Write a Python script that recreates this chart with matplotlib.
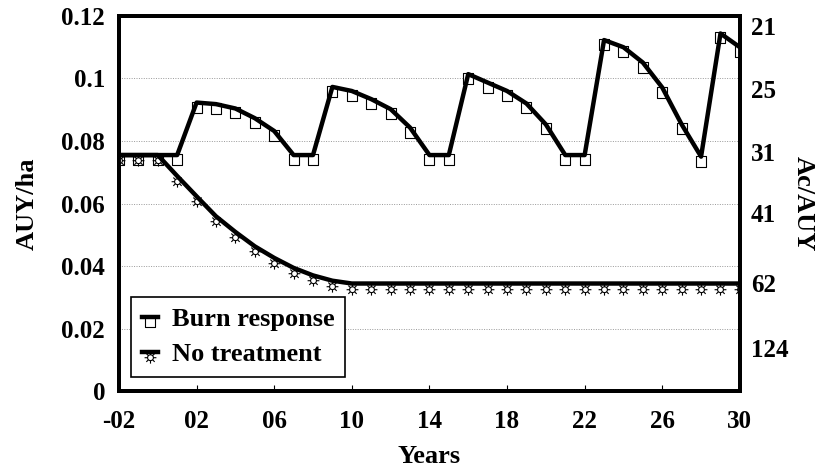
import numpy as np
import matplotlib
matplotlib.use("Agg")
import matplotlib.pyplot as plt
from matplotlib.path import Path
from matplotlib.legend_handler import HandlerTuple

plt.rcParams['font.family'] = ['Liberation Serif', 'DejaVu Serif']
plt.rcParams['font.weight'] = 'bold'

years = list(range(-2, 31))
burn = [0.0755, 0.0755, 0.0755, 0.0755, 0.0923, 0.0918, 0.0904, 0.0873, 0.0832,
        0.0755, 0.0755, 0.0973, 0.0960, 0.0934, 0.0902, 0.0843, 0.0755, 0.0755,
        0.1014, 0.0987, 0.0960, 0.0920, 0.0853, 0.0755, 0.0755, 0.1123, 0.1100,
        0.1051, 0.0971, 0.0853, 0.0750, 0.1144, 0.1100]
no_treat = [0.0755, 0.0755, 0.0755, 0.0688, 0.0623, 0.0559, 0.0509, 0.0463, 0.0426,
            0.0394, 0.0370, 0.0353, 0.0344, 0.0344, 0.0344, 0.0344, 0.0344, 0.0344,
            0.0344, 0.0344, 0.0344, 0.0344, 0.0344, 0.0344, 0.0344, 0.0344, 0.0344,
            0.0344, 0.0344, 0.0344, 0.0344, 0.0344, 0.0344]

x_ticks = [-2, 2, 6, 10, 14, 18, 22, 26, 30]
x_labels = ['-02', '02', '06', '10', '14', '18', '22', '26', '30']
y_ticks = [0, 0.02, 0.04, 0.06, 0.08, 0.1, 0.12]
y_labels = ['0', '0.02', '0.04', '0.06', '0.08', '0.1', '0.12']
right_pos = [0.1169, 0.0966, 0.0764, 0.0571, 0.0347, 0.0138]
right_labels = ['21', '25', '31', '41', '62', '124']

# markers hang below the line (top edge tucked under the line)
sq_marker = Path([(-0.5, 0.1), (0.5, 0.1), (0.5, -0.9), (-0.5, -0.9), (-0.5, 0.1)],
                 [Path.MOVETO, Path.LINETO, Path.LINETO, Path.LINETO, Path.CLOSEPOLY])

def sun_path():
    c = -0.75
    circ = Path.circle((0, c), 0.42)
    verts, codes = [], []
    for a in np.linspace(0, 2 * np.pi, 8, endpoint=False):
        verts += [(0.5 * np.cos(a), c + 0.5 * np.sin(a)), (0.85 * np.cos(a), c + 0.85 * np.sin(a))]
        codes += [Path.MOVETO, Path.LINETO]
    return Path.make_compound_path(circ, Path(verts, codes))

sun_marker = sun_path()

fig = plt.figure(figsize=(8.29, 4.70), dpi=100)
ax = fig.add_axes([0.1435, 0.168, 0.749, 0.798])

for v in y_ticks[1:-1]:
    ax.axhline(v, color='#999999', lw=0.7, ls=(0, (1, 1.5)), zorder=1)

m1, = ax.plot(years, burn, ls='none', marker=sq_marker, ms=14, mfc='white', mec='black', mew=0.8, zorder=3)
l1, = ax.plot(years, burn, color='black', lw=3.2, zorder=4)
m2, = ax.plot(years, no_treat, ls='none', marker=sun_marker, ms=16, mfc='white', mec='black', mew=0.8, zorder=3)
l2, = ax.plot(years, no_treat, color='black', lw=3.2, zorder=4)

ax.set_xlim(-2, 30)
ax.set_ylim(0, 0.12)
ax.set_xticks(x_ticks)
ax.set_xticklabels(x_labels)
ax.set_yticks(y_ticks)
ax.set_yticklabels(y_labels)
ax.tick_params(axis='x', direction='in', length=4, width=0.8, pad=14, labelsize=18)
ax.tick_params(axis='y', length=0, pad=10, labelsize=18)
for s in ax.spines.values():
    s.set_linewidth(2.8)
ax.set_xlabel('Years', fontsize=19, fontweight='bold', labelpad=8)
ax.set_ylabel('AUY/ha', fontsize=19, fontweight='bold', labelpad=16)

ax2 = ax.twinx()
ax2.set_ylim(0, 0.12)
ax2.set_yticks(right_pos)
ax2.set_yticklabels(right_labels)
ax2.tick_params(axis='y', length=0, pad=8, labelsize=18)
for s in ax2.spines.values():
    s.set_linewidth(2.8)
ax2.set_ylabel('Ac/AUY', fontsize=19, fontweight='bold', rotation=270, labelpad=19)

leg = ax.legend([(m1, l1), (m2, l2)], ['Burn response', 'No treatment'],
                handler_map={tuple: HandlerTuple(ndivide=1)},
                loc='lower left', bbox_to_anchor=(0.02, 0.038), borderaxespad=0,
                fancybox=False, framealpha=1, edgecolor='black', fontsize=19,
                handlelength=0.6, handletextpad=0.55, labelspacing=0.45,
                borderpad=0.4, numpoints=1)
leg.get_frame().set_linewidth(1.2)
leg.set_zorder(10)

fig.savefig('out.png', dpi=100)
